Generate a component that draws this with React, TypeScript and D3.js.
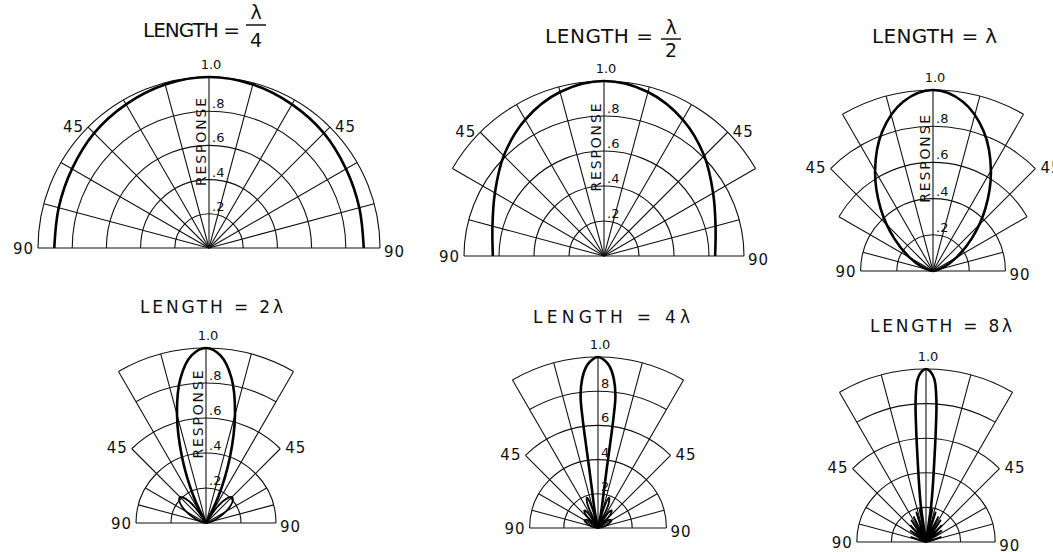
import * as d3 from "d3";

type Pt = [number, number];

const width = 1053;
const height = 552;
const rad = Math.PI / 180;

// grid rings and their labels
const ringValues = [0.2, 0.4, 0.6, 0.8, 1.0];
const dottedTicks = [".2", ".4", ".6", ".8"];
const plainTicks = ["2", "4", "6", "8"];
const topTick = "1.0";
const axisTitle = "RESPONSE";

// titles
const titleTexts = ["LENGTH =", "LENGTH =", "LENGTH = λ", "LENGTH = 2λ", "LENGTH = 4λ", "LENGTH = 8λ"];
const fractionParts = [["λ", "4"], ["λ", "2"]];

// one half of every response curve: [degrees off the axis, response]
const quarterWave: Pt[] = [[0, 1], [15, 0.99], [30, 0.97], [45, 0.95], [60, 0.925], [75, 0.91], [90, 0.905]];
const halfWave: Pt[] = [[0, 1], [15, 0.97], [30, 0.9], [45, 0.81], [60, 0.72], [75, 0.66], [90, 0.635]];
const fullWave: Pt[] = [
  [0, 1], [10, 0.95], [20, 0.82], [30, 0.64], [40, 0.45], [50, 0.28],
  [60, 0.15], [70, 0.065], [80, 0.015], [90, 0],
];
const twoWave: Pt[] = [
  [0, 1], [5, 0.96], [10, 0.84], [15, 0.64], [20, 0.4], [25, 0.17], [30, 0],
  [35, 0.11], [40, 0.18], [45, 0.21], [50, 0.2], [55, 0.17], [60, 0.13],
  [65, 0.09], [70, 0.055], [75, 0.03], [80, 0.012], [90, 0],
];
const fourWave: Pt[] = [
  [0, 1], [2, 0.985], [4, 0.95], [6, 0.88], [7.5, 0.78], [8, 0.65], [8.2, 0.5],
  [8.4, 0.35], [9, 0.22], [11, 0.1], [14.5, 0], [17, 0.14], [20, 0.19], [24, 0.15],
  [30, 0], [34, 0.11], [38, 0.13], [43, 0.1], [48.6, 0], [54, 0.08], [61, 0.09],
  [70, 0.06], [80, 0.02], [90, 0],
];
const eightWave: Pt[] = [
  [0, 1], [1.5, 0.985], [3, 0.94], [4.2, 0.82], [5, 0.65], [5.8, 0.48], [6.8, 0.34],
  [8, 0.22], [8.5, 0.1], [7.2, 0], [11, 0.19], [14.5, 0], [18, 0.18], [22, 0],
  [26, 0.16], [30, 0], [34, 0.15], [38.7, 0], [43, 0.13], [48.6, 0], [54, 0.11],
  [61, 0], [72, 0.09], [90, 0],
];

type Panel = {
  cx: number;
  cy: number;
  R: number;
  spans: number[]; // angular half-width of the band below each ring
  data: Pt[];
  ticks: string[] | null;
  response: boolean;
  title: { x: number; y: number; w: number; size: number };
  frac?: { x: number; top: number; bar: number; bottom: number };
};

const panels: Panel[] = [
  { cx: 209, cy: 248, R: 171, spans: [90, 90, 90, 90, 90], data: quarterWave, ticks: dottedTicks, response: true,
    title: { x: 143, y: 37, w: 97, size: 20 }, frac: { x: 256, top: 19, bar: 25, bottom: 47 } },
  { cx: 604, cy: 256, R: 175, spans: [90, 90, 90, 90, 60], data: halfWave, ticks: dottedTicks, response: true,
    title: { x: 545, y: 43, w: 108, size: 20 }, frac: { x: 671, top: 34, bar: 39, bottom: 57 } },
  { cx: 933, cy: 271, R: 181, spans: [90, 90, 60, 45, 30], data: fullWave, ticks: dottedTicks, response: true,
    title: { x: 872, y: 43, w: 125, size: 20 } },
  { cx: 206, cy: 523, R: 175, spans: [90, 90, 45, 30, 30], data: twoWave, ticks: dottedTicks, response: true,
    title: { x: 140, y: 313, w: 143, size: 17 } },
  { cx: 598, cy: 528, R: 171, spans: [90, 90, 45, 30, 30], data: fourWave, ticks: plainTicks, response: false,
    title: { x: 533, y: 323, w: 157, size: 17 } },
  { cx: 926, cy: 542, R: 173, spans: [90, 90, 45, 30, 30], data: eightWave, ticks: null, response: false,
    title: { x: 870, y: 332, w: 142, size: 17 } },
];

const mirror = (pts: Pt[]): Pt[] => [
  ...pts.slice(1).reverse().map(([a, v]) => [-a, v] as Pt),
  ...pts,
];

function PolarPanel({ p }: { p: Panel }) {
  const r = d3.scaleLinear().domain([0, 1]).range([0, p.R]);
  const pos = (deg: number, v: number): Pt => [r(v) * Math.sin(deg * rad), -r(v) * Math.cos(deg * rad)];
  // outermost ring reached at a given angle
  const reach = (deg: number) =>
    d3.max(ringValues.filter((_, k) => p.spans[k] >= Math.abs(deg))) ?? 0;

  const arcs = ringValues.map((v, k) => {
    const s = p.spans[k];
    const path = d3.path();
    const [x0, y0] = pos(-s, v);
    path.moveTo(x0, y0);
    path.arc(0, 0, r(v), (-s - 90) * rad, (s - 90) * rad);
    return path.toString();
  });

  const spokes = d3.range(-75, 76, 15).map((deg) => pos(deg, reach(deg)));
  const r90 = reach(90);
  const [lx, ly] = pos(-90, r90);
  const [rx, ry] = pos(90, r90);
  const [l45x, l45y] = pos(-45, reach(45));
  const [r45x, r45y] = pos(45, reach(45));

  const curve = d3
    .lineRadial<Pt>()
    .angle((d) => d[0] * rad)
    .radius((d) => r(d[1]))
    .curve(d3.curveCatmullRom.alpha(0.5));

  // main lobe drawn heavy, minor lobes a little lighter
  const firstNull = p.data.findIndex((d) => d[1] === 0);
  const hasSide = firstNull > 0 && firstNull < p.data.length - 1;
  const mainPart = hasSide ? p.data.slice(0, firstNull + 1) : p.data;
  const sidePart = hasSide ? p.data.slice(firstNull) : [];

  return (
    <g transform={`translate(${p.cx},${p.cy})`}>
      <g fill="none" stroke="#111" strokeWidth={1.1}>
        {arcs.map((d, i) => (
          <path key={i} d={d} />
        ))}
        {spokes.map(([x, y], i) => (
          <line key={i} x1={0} y1={0} x2={x} y2={y} />
        ))}
        <line x1={lx} y1={ly} x2={rx} y2={ry} />
      </g>
      <path d={curve(mirror(mainPart)) ?? ""} fill="none" stroke="#000" strokeWidth={2.6} strokeLinejoin="round" />
      {hasSide &&
        [1, -1].map((sgn) => (
          <path
            key={sgn}
            d={curve(sidePart.map(([a, v]) => [sgn * a, v] as Pt)) ?? ""}
            fill="none"
            stroke="#000"
            strokeWidth={1.8}
            strokeLinejoin="round"
          />
        ))}

      <g fill="#111" fontSize={13}>
        <text x={2} y={-r(1) - 8} textAnchor="middle">{topTick}</text>
        {p.ticks &&
          p.ticks.map((t, k) => (
            <text key={t} x={3} y={-r(ringValues[k]) - 3}>{t}</text>
          ))}
        {p.response && (
          <text
            transform={`translate(-3,${-r(0.62)}) rotate(-90)`}
            textAnchor="middle"
            fontSize={14}
            textLength={88}
            lengthAdjust="spacing"
          >
            {axisTitle}
          </text>
        )}
      </g>

      <g fill="#111" fontSize={15} letterSpacing={1}>
        <text x={l45x - 4} y={l45y} textAnchor="end" dominantBaseline="middle">45</text>
        <text x={r45x + 5} y={r45y} dominantBaseline="middle">45</text>
        <text x={lx - 4} y={ly + 1} textAnchor="end" dominantBaseline="middle">90</text>
        <text x={rx + 4} y={ry + 4} dominantBaseline="middle">90</text>
      </g>
    </g>
  );
}

export default function App() {
  return (
    <svg
      width={width}
      height={height}
      viewBox={`0 0 ${width} ${height}`}
      style={{ position: "absolute", left: 0, top: 0, background: "#fff" }}
      fontFamily="'DejaVu Sans', sans-serif"
    >
      <rect width={width} height={height} fill="#fff" />
      {panels.map((p, i) => (
        <g key={i}>
          <PolarPanel p={p} />
          <text
            x={p.title.x}
            y={p.title.y}
            fontSize={p.title.size}
            textLength={p.title.w}
            lengthAdjust="spacing"
            fill="#111"
          >
            {titleTexts[i]}
          </text>
          {p.frac && (
            <g fill="#111" fontSize={19} textAnchor="middle">
              <text x={p.frac.x} y={p.frac.top}>{fractionParts[i][0]}</text>
              <line x1={p.frac.x - 10} x2={p.frac.x + 10} y1={p.frac.bar} y2={p.frac.bar} stroke="#111" strokeWidth={1.5} />
              <text x={p.frac.x} y={p.frac.bottom}>{fractionParts[i][1]}</text>
            </g>
          )}
        </g>
      ))}
    </svg>
  );
}
